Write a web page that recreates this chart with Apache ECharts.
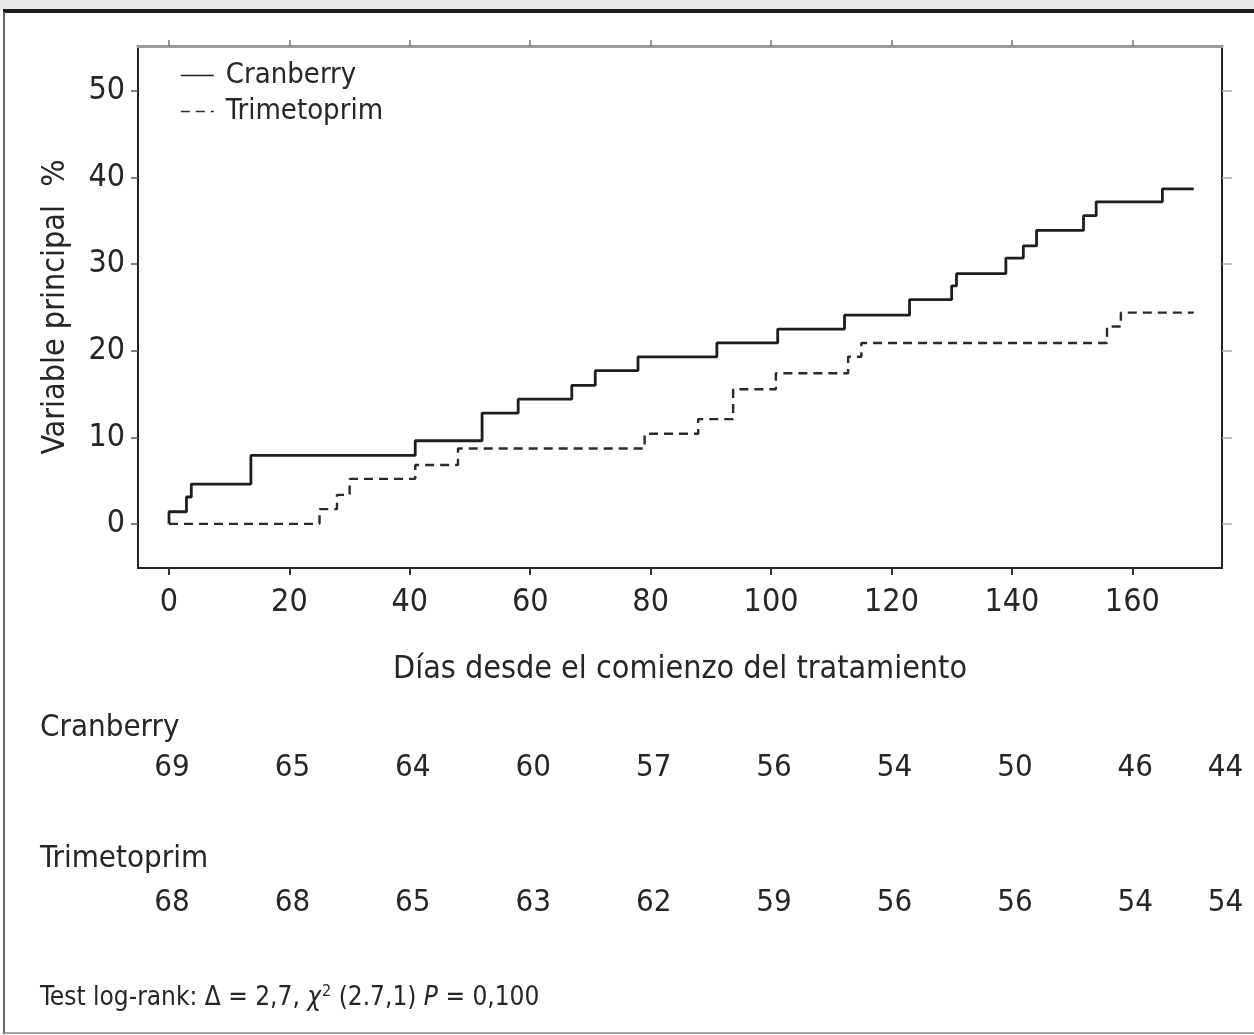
<!DOCTYPE html>
<html>
<head>
<meta charset="utf-8">
<script src="https://cdn.jsdelivr.net/npm/echarts@6/dist/echarts.min.js"></script>
<style>
  html, body { margin: 0; padding: 0; background: #ffffff; }
  #chart { width: 1254px; height: 1035px; }
</style>
</head>
<body>
<div id="chart"></div>
<script>
// Cumulative incidence (%) by day, step curves
const cranberryCurve = [
  [0, 0], [0, 1.4], [2.9, 3.1], [3.7, 4.6], [13.6, 7.9], [40.9, 9.6], [52, 12.8],
  [58, 14.4], [66.9, 16.0], [70.8, 17.7], [77.9, 19.3], [91, 20.9], [101.1, 22.5],
  [112.2, 24.1], [123, 25.9], [130, 27.5], [130.8, 28.9], [139, 30.7], [141.9, 32.1],
  [144.1, 33.9], [151.9, 35.6], [154, 37.2], [165, 38.7], [170.2, 38.7]
];
const trimetoprimCurve = [
  [0, 0], [25, 1.7], [27.9, 3.35], [30, 5.2], [40.9, 6.8], [48, 8.7], [79, 10.4],
  [87.9, 12.1], [93.7, 15.55], [100.8, 17.4], [112.8, 19.3], [115, 20.9],
  [155.8, 22.8], [158.1, 24.4], [170.2, 24.4]
];

// Axis ticks
const xTicks = [0, 20, 40, 60, 80, 100, 120, 140, 160];
const yTicks = [0, 10, 20, 30, 40, 50];

// Numbers at risk
const riskDays = [0, 20, 40, 60, 80, 100, 120, 140, 160, 175];
const cranberryRisk = [69, 65, 64, 60, 57, 56, 54, 50, 46, 44];
const trimetoprimRisk = [68, 68, 65, 63, 62, 59, 56, 56, 54, 54];

const seriesNames = ['Cranberry', 'Trimetoprim'];
const xTitle = 'Días desde el comienzo del tratamiento';
const yTitle = 'Variable principal  %';

const FONT = '"Liberation Sans Narrow", "DejaVu Sans Condensed", "Liberation Sans", sans-serif';
const INK = '#262626';

const xRange = { min: -5.15, max: 174.9 };
const yRange = { min: -5.1, max: 55.2 };

const chart = echarts.init(document.getElementById('chart'), null, { renderer: 'canvas' });

function riskSeries(values, row) {
  return {
    type: 'scatter',
    xAxisIndex: 2,
    yAxisIndex: 2,
    clip: false,
    silent: true,
    symbolSize: 0,
    itemStyle: { color: INK, opacity: 1 },
    data: riskDays.map((d, i) => [d, row, values[i]]),
    label: {
      show: true,
      position: [3, 0],
      align: 'center',
      verticalAlign: 'middle',
      formatter: p => String(p.value[2]),
      fontFamily: FONT,
      fontSize: 31,
      color: INK,
      opacity: 1,
      textBorderWidth: 0
    }
  };
}

chart.setOption({
  animation: false,
  backgroundColor: '#ffffff',
  textStyle: { fontFamily: FONT },
  grid: [
    { left: 138, top: 46, width: 1084, height: 522 },
    { left: 138, top: 768, width: 1084, height: 135 }
  ],
  legend: {
    data: seriesNames,
    orient: 'vertical',
    left: 180,
    top: 61,
    padding: 0,
    itemWidth: 33,
    itemHeight: 14,
    itemGap: 7,
    itemStyle: { opacity: 0 },
    lineStyle: { width: 1.6 },
    textStyle: { fontFamily: FONT, fontSize: 29, color: INK, padding: [0, 0, 0, 7] }
  },
  xAxis: [
    {
      type: 'value', gridIndex: 0, position: 'bottom',
      min: xRange.min, max: xRange.max,
      axisLine: { show: true, onZero: false, lineStyle: { color: '#222', width: 2 } },
      axisTick: { show: true, inside: false, length: 7, customValues: xTicks, lineStyle: { color: '#333', width: 2 } },
      axisLabel: { customValues: xTicks, fontFamily: FONT, fontSize: 32, color: INK, margin: 19 },
      splitLine: { show: false },
      name: xTitle, nameLocation: 'middle', nameGap: 86,
      nameTextStyle: { fontFamily: FONT, fontSize: 32, color: INK }
    },
    {
      type: 'value', gridIndex: 0, position: 'top',
      min: xRange.min, max: xRange.max,
      axisLine: { show: true, onZero: false, lineStyle: { color: '#9a9a9a', width: 3 } },
      axisTick: { show: true, inside: false, length: 6, customValues: xTicks, lineStyle: { color: '#777', width: 1.5 } },
      axisLabel: { show: false },
      splitLine: { show: false }
    },
    {
      type: 'value', gridIndex: 1, show: false,
      min: xRange.min, max: xRange.max
    }
  ],
  yAxis: [
    {
      type: 'value', gridIndex: 0, position: 'left',
      min: yRange.min, max: yRange.max,
      axisLine: { show: true, onZero: false, lineStyle: { color: '#222', width: 2 } },
      axisTick: { show: true, inside: false, length: 7, customValues: yTicks, lineStyle: { color: '#555', width: 1.5 } },
      axisLabel: { customValues: yTicks, fontFamily: FONT, fontSize: 32, color: INK, margin: 13 },
      splitLine: { show: false },
      name: yTitle, nameLocation: 'middle', nameGap: 66, nameRotate: 90,
      nameTextStyle: { fontFamily: FONT, fontSize: 32, color: INK }
    },
    {
      type: 'value', gridIndex: 0, position: 'right',
      min: yRange.min, max: yRange.max,
      axisLine: { show: true, onZero: false, lineStyle: { color: '#222', width: 2 } },
      axisTick: { show: true, inside: false, length: 10, customValues: yTicks, lineStyle: { color: '#aaa', width: 1.5 } },
      axisLabel: { show: false },
      splitLine: { show: false }
    },
    {
      type: 'value', gridIndex: 1, show: false, min: 0, max: 1
    }
  ],
  series: [
    {
      name: seriesNames[0],
      type: 'line', xAxisIndex: 0, yAxisIndex: 0,
      step: 'end', symbol: 'none',
      data: cranberryCurve,
      lineStyle: { color: '#1e1e1e', width: 2.8, type: 'solid' },
      itemStyle: { color: '#1e1e1e' }
    },
    {
      name: seriesNames[1],
      type: 'line', xAxisIndex: 0, yAxisIndex: 0,
      step: 'end', symbol: 'none',
      data: trimetoprimCurve,
      lineStyle: { color: '#2a2a2a', width: 2.4, type: [9, 6] },
      itemStyle: { color: '#2a2a2a' }
    },
    riskSeries(cranberryRisk, 1),
    riskSeries(trimetoprimRisk, 0)
  ],
  graphic: [
    { type: 'rect', shape: { x: 0, y: 0, width: 1254, height: 10 }, style: { fill: '#e8e8e6' }, silent: true },
    { type: 'rect', shape: { x: 3, y: 9, width: 1251, height: 4 }, style: { fill: '#1c1c1c' }, silent: true },
    { type: 'line', shape: { x1: 4, y1: 12, x2: 4, y2: 1034 }, style: { stroke: '#666', lineWidth: 2 }, silent: true },
    { type: 'line', shape: { x1: 4, y1: 1033, x2: 1254, y2: 1033 }, style: { stroke: '#888', lineWidth: 1.5 }, silent: true },
    {
      type: 'text', left: 40, top: 712,
      style: { text: seriesNames[0], fontFamily: FONT, fontSize: 31, fill: INK }
    },
    {
      type: 'text', left: 40, top: 843,
      style: { text: seriesNames[1], fontFamily: FONT, fontSize: 31, fill: INK }
    },
    {
      type: 'text', left: 40, top: 984,
      style: {
        text: 'Test log-rank: Δ = 2,7, {chi|χ}{sup|2} (2.7,1) {it|P} = 0,100',
        fontFamily: FONT, fontSize: 26, fill: INK,
        rich: {
          chi: { fontFamily: FONT, fontSize: 26, fontStyle: 'italic', fill: INK },
          sup: { fontFamily: FONT, fontSize: 16, fill: INK, verticalAlign: 'top', padding: [0, 0, 12, 1] },
          it: { fontFamily: FONT, fontSize: 26, fontStyle: 'italic', fill: INK }
        }
      }
    }
  ]
});
</script>
</body>
</html>
